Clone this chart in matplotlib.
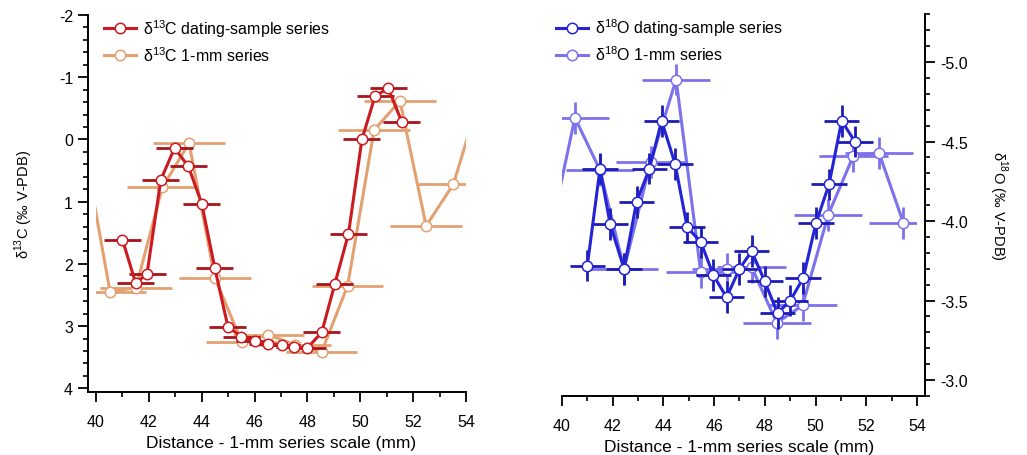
import numpy as np
import matplotlib
matplotlib.use('Agg')
import matplotlib.pyplot as plt
from matplotlib.ticker import MultipleLocator, FormatStrFormatter

plt.rcParams['font.family'] = ['Liberation Sans', 'DejaVu Sans']
plt.rcParams['mathtext.fontset'] = 'custom'
plt.rcParams['mathtext.rm'] = 'Liberation Sans'
plt.rcParams['axes.unicode_minus'] = False

# -----------------------------------------------------------------------------
# data (distance in mm, isotope values in permil V-PDB)

c_date_x = [41.0, 41.5, 41.93, 42.45, 42.97, 43.49, 44.0, 44.49, 44.99, 45.5, 46.0,
            46.5, 47.02, 47.5, 48.0, 48.54, 49.03, 49.55, 50.06, 50.56, 51.06, 51.57]
c_date = [1.61, 2.31, 2.16, 0.65, 0.14, 0.43, 1.03, 2.06, 3.01, 3.17, 3.24,
          3.29, 3.30, 3.33, 3.35, 3.10, 2.33, 1.52, 0.0, -0.70, -0.82, -0.28]

c_mm_x = [39.5, 40.53, 41.51, 42.51, 43.52, 44.5, 45.51, 46.52, 47.53, 48.54,
          49.52, 50.52, 51.5, 52.49, 53.52, 54.5]
c_mm = [0.0, 2.45, 2.38, 0.77, 0.06, 2.23, 3.25, 3.14, 3.30, 3.41,
        2.35, -0.15, -0.62, 1.39, 0.72, -0.65]

o_date_x = [41.0, 41.5, 41.9, 42.45, 42.94, 43.45, 43.93, 44.46, 44.94, 45.47, 45.97,
            46.49, 47.0, 47.48, 48.0, 48.5, 49.0, 49.51, 50.02, 50.53, 51.03, 51.55]
o_date = [-3.72, -4.33, -3.98, -3.70, -4.12, -4.33, -4.63, -4.36, -3.96, -3.87, -3.66,
          -3.52, -3.70, -3.81, -3.62, -3.42, -3.50, -3.64, -3.99, -4.23, -4.63, -4.50]

o_mm_x = [39.5, 40.51, 41.5, 42.45, 43.5, 44.5, 45.47, 46.49, 47.48, 48.47,
          49.49, 50.5, 51.49, 52.5, 53.46]
o_mm = [-3.89, -4.65, -4.32, -3.70, -4.37, -4.89, -3.68, -3.70, -3.71, -3.36,
        -3.47, -4.04, -4.41, -4.43, -3.99]

date_xerr = 0.7
mm_xerr = 1.35
o_yerr = 0.1

red, red_bar = '#cc1a20', '#a8141c'
tan = '#e3a172'
blue, blue_bar = '#2424d6', '#1c1cb4'
lilac = '#7c72ec'

# -----------------------------------------------------------------------------
# plot

def series(ax, x, y, color, barcolor, label, xerr, yerr=None, z=2):
    x = np.asarray(x)
    y = np.asarray(y)
    inside = (x >= 40) & (x <= 54)
    ax.errorbar(x[inside], y[inside], xerr=xerr,
                yerr=None if yerr is None else yerr,
                fmt='none', ecolor=barcolor, elinewidth=2.0, capsize=0, zorder=z)
    ax.plot(x, y, color=color, lw=2.2, zorder=z + 0.1)
    ax.plot(x[inside], y[inside], ls='none', marker='o', ms=7.5, mfc='white',
            mec=color, mew=1.1, zorder=z + 0.2)
    # legend handle
    ax.plot([], [], color=color, lw=2.2, marker='o', ms=7.5, mfc='white',
            mec=color, mew=1.1, label=label)


fig = plt.figure(figsize=(10.27, 4.56), dpi=100)

# left: carbon
ax1 = fig.add_axes([0.0935, 0.138, 0.3603, 0.827])
series(ax1, c_mm_x, c_mm, tan, tan, 'δ$^{13}$C 1-mm series', mm_xerr, z=2)
series(ax1, c_date_x, c_date, red, red_bar, 'δ$^{13}$C dating-sample series', date_xerr, z=3)

ax1.set_xlim(40, 54)
ax1.set_ylim(4.06, -2)
ax1.set_xticks(np.arange(40, 55, 2))
ax1.set_yticks(np.arange(-2, 5, 1))
ax1.xaxis.set_minor_locator(MultipleLocator(1))
ax1.yaxis.set_minor_locator(MultipleLocator(0.2))
ax1.spines['top'].set_visible(False)
ax1.spines['right'].set_visible(False)
ax1.spines['left'].set_position(('outward', 6))
ax1.spines['bottom'].set_bounds(39.77, 54)
ax1.set_ylabel('δ$^{13}$C (‰ V-PDB)', fontsize=10.5)
ax1.yaxis.set_label_coords(-0.165, 0.5)
h, l = ax1.get_legend_handles_labels()
ax1.legend(h[::-1], l[::-1], loc='upper left', bbox_to_anchor=(0.0, 1.015),
           frameon=False, fontsize=11.5, handlelength=2.0, handletextpad=0.45,
           labelspacing=0.4, borderaxespad=0.1)

# right: oxygen
ax2 = fig.add_axes([0.5472, 0.1294, 0.3457, 0.837])
series(ax2, o_mm_x, o_mm, lilac, lilac, 'δ$^{18}$O 1-mm series', mm_xerr, o_yerr, z=2)
series(ax2, o_date_x, o_date, blue, blue_bar, 'δ$^{18}$O dating-sample series', date_xerr, o_yerr, z=3)

ax2.set_xlim(40, 54)
ax2.set_ylim(-2.9, -5.3)
ax2.set_xticks(np.arange(40, 55, 2))
ax2.set_yticks(np.arange(-5.0, -2.99, 0.5))
ax2.yaxis.set_major_formatter(FormatStrFormatter('%.1f'))
ax2.xaxis.set_minor_locator(MultipleLocator(1))
ax2.yaxis.set_minor_locator(MultipleLocator(0.1))
ax2.yaxis.tick_right()
ax2.yaxis.set_label_position('right')
ax2.spines['top'].set_visible(False)
ax2.spines['left'].set_visible(False)
ax2.spines['right'].set_position(('outward', 6))
ax2.spines['bottom'].set_bounds(40, 54.24)
ax2.set_ylabel('δ$^{18}$O (‰ V-PDB)', fontsize=10.5, rotation=270)
ax2.yaxis.set_label_coords(1.26, 0.5)
h, l = ax2.get_legend_handles_labels()
ax2.legend(h[::-1], l[::-1], loc='upper left', bbox_to_anchor=(-0.04, 1.015),
           frameon=False, fontsize=11.5, handlelength=2.0, handletextpad=0.45,
           labelspacing=0.4, borderaxespad=0.1)

for ax in (ax1, ax2):
    for s in ax.spines.values():
        s.set_linewidth(1.4)
    ax.tick_params(which='major', direction='out', length=7, width=1.3, labelsize=11.5)
    ax.tick_params(which='minor', direction='out', length=3.8, width=1.2)
    ax.tick_params(axis='x', which='major', pad=9)
    ax.set_xlabel('Distance - 1-mm series scale (mm)', fontsize=12.5, labelpad=4)

fig.savefig('out.png', dpi=100)
